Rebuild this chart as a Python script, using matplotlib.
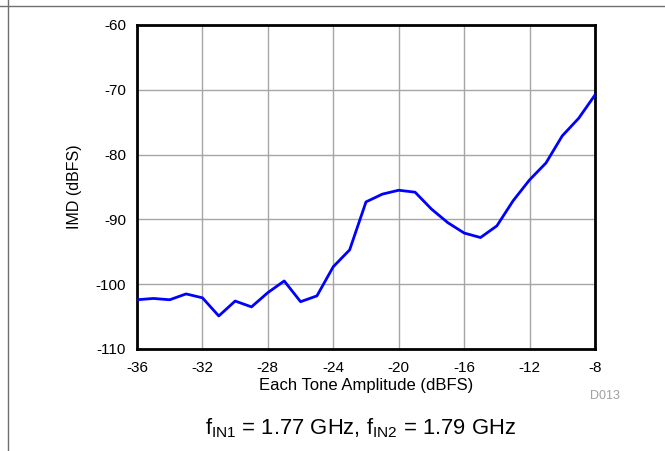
import numpy as np
import matplotlib
matplotlib.use("Agg")
import matplotlib.pyplot as plt
from matplotlib.lines import Line2D

plt.rcParams['font.family'] = ['Liberation Sans', 'DejaVu Sans']
plt.rcParams['mathtext.fontset'] = 'custom'
plt.rcParams['mathtext.rm'] = 'Liberation Sans'
plt.rcParams['axes.unicode_minus'] = False

# tone amplitude (dBFS) and IMD (dBFS)
amplitude = list(range(-36, -7))
imd = [-102.4, -102.2, -102.4, -101.5, -102.1, -104.9, -102.6, -103.5,
       -101.3, -99.5, -102.7, -101.8, -97.3, -94.7, -87.3, -86.1,
       -85.5, -85.8, -88.4, -90.5, -92.1, -92.8, -91.0, -87.1,
       -83.9, -81.3, -77.1, -74.4, -70.8]
x_ticks = [-36, -32, -28, -24, -20, -16, -12, -8]
y_ticks = [-110, -100, -90, -80, -70, -60]

fig = plt.figure(figsize=(6.65, 4.51), dpi=100)
ax = fig.add_axes([137 / 665, 1 - 349 / 451, 458 / 665, 324 / 451])

ax.plot(amplitude, imd, color='#0000ff', linewidth=2.0, zorder=3)

ax.set_xlim(-36, -8)
ax.set_ylim(-110, -60)
ax.set_xticks(x_ticks)
ax.set_yticks(y_ticks)
ax.tick_params(length=0, labelsize=11, colors='black')
ax.tick_params(axis='x', pad=9)
ax.tick_params(axis='y', pad=8)
ax.grid(True, color='#a6a6a6', linewidth=1.0)
for s in ax.spines.values():
    s.set_linewidth(2.0)
    s.set_color('black')

ax.set_xlabel('Each Tone Amplitude (dBFS)', fontsize=12, labelpad=2)
ax.set_ylabel('IMD (dBFS)', fontsize=11.5, labelpad=10)

fig.text(605 / 665, 1 - 396 / 451, 'D013', fontsize=9, color='#a0a0a0',
         ha='center', va='center')
fig.text(360 / 665, 1 - 428 / 451,
         r'f$_{\mathregular{IN1}}$ = 1.77 GHz, f$_{\mathregular{IN2}}$ = 1.79 GHz',
         fontsize=15.8, ha='center', va='center')

# frame lines at top and left of the page
fig.add_artist(Line2D([0, 1], [1 - 6 / 451, 1 - 6 / 451],
                      color='#707070', linewidth=1.0, transform=fig.transFigure))
fig.add_artist(Line2D([7.5 / 665, 7.5 / 665], [0, 1],
                      color='#707070', linewidth=1.0, transform=fig.transFigure))

fig.savefig('out.png', dpi=100)
